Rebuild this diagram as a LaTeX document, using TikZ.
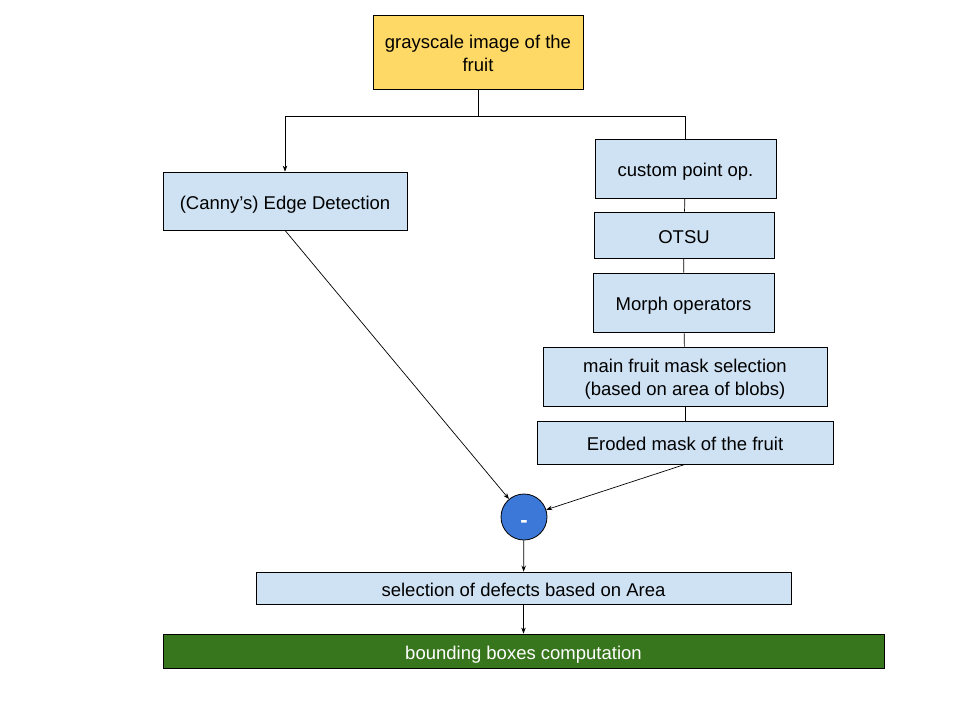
\documentclass[tikz,border=0pt]{standalone}
\usepackage{fontspec}
\setmainfont{Liberation Sans}
\usetikzlibrary{arrows.meta}
\definecolor{stepblue}{HTML}{CFE2F3}
\definecolor{inputyellow}{HTML}{FFD966}
\definecolor{outputgreen}{HTML}{38761D}
\definecolor{opblue}{HTML}{3C78D8}
\tikzset{
	stage/.style={draw=black, fill=stepblue, line width=0.8pt, align=center, inner sep=0pt, text height=16pt, text depth=0pt},
	twolines/.style={text height=38pt},
	flow/.style={draw=black, line width=0.7pt},
	flowarrow/.style={flow, -{Stealth[length=6pt,width=4.5pt]}}
}
\begin{document}
\begin{tikzpicture}[x=1pt, y=-1pt, font=\fontsize{18.5}{23}\selectfont]
		%%%%% START %%%%%
		
		\useasboundingbox (0, 0) rectangle (960, 720);
		
		\node[stage, twolines, fill=inputyellow, minimum width=210, minimum height=74] (gray) at (478, 52) {grayscale image of the\\fruit};
		\coordinate (split) at (478, 116);
		
		\node[stage, minimum width=244, minimum height=58] (canny) at (285, 201) {(Canny’s) Edge Detection};
		
		\node[stage, minimum width=181, minimum height=59] (point) at (685.5, 168.5) {custom point op.};
		\node[stage, minimum width=180, minimum height=46] (otsu) at (684, 235) {OTSU};
		\node[stage, minimum width=181, minimum height=59] (morph) at (683.5, 302.5) {Morph operators};
		\node[stage, twolines, minimum width=284, minimum height=59] (mask) at (685, 376.5) {main fruit mask selection\\(based on area of blobs)};
		\node[stage, minimum width=296, minimum height=43] (eroded) at (685, 442.5) {Eroded mask of the fruit};
		
		\node[circle, draw=black, fill=opblue, line width=0.8pt, minimum size=46, inner sep=0pt, text height=20pt, text depth=0pt, text=white, font=\fontsize{22}{22}\selectfont\bfseries] (minus) at (524, 517) {-};
		
		\node[stage, minimum width=535, minimum height=32] (defects) at (523.5, 588) {selection of defects based on Area};
		\node[stage, fill=outputgreen, text=white, minimum width=721, minimum height=34] (boxes) at (523.5, 651) {bounding boxes computation};
		
		\draw[flow] (gray.south) -- (split);
		\draw[flowarrow] (split) -| (canny.north);
		\draw[flow] (split) -| (point.north);
		
		\draw[flow] (point) -- (otsu);
		\draw[flow] (otsu) -- (morph);
		\draw[flow] (morph) -- (mask);
		\draw[flow] (mask) -- (eroded);
		
		\draw[flowarrow] (canny.south) -- (minus);
		\draw[flowarrow] (eroded.south) -- (minus);
		\draw[flowarrow] (minus) -- (defects);
		\draw[flowarrow] (defects) -- (boxes);
		
		%%%%% END %%%%%
	\end{tikzpicture}
\end{document}
